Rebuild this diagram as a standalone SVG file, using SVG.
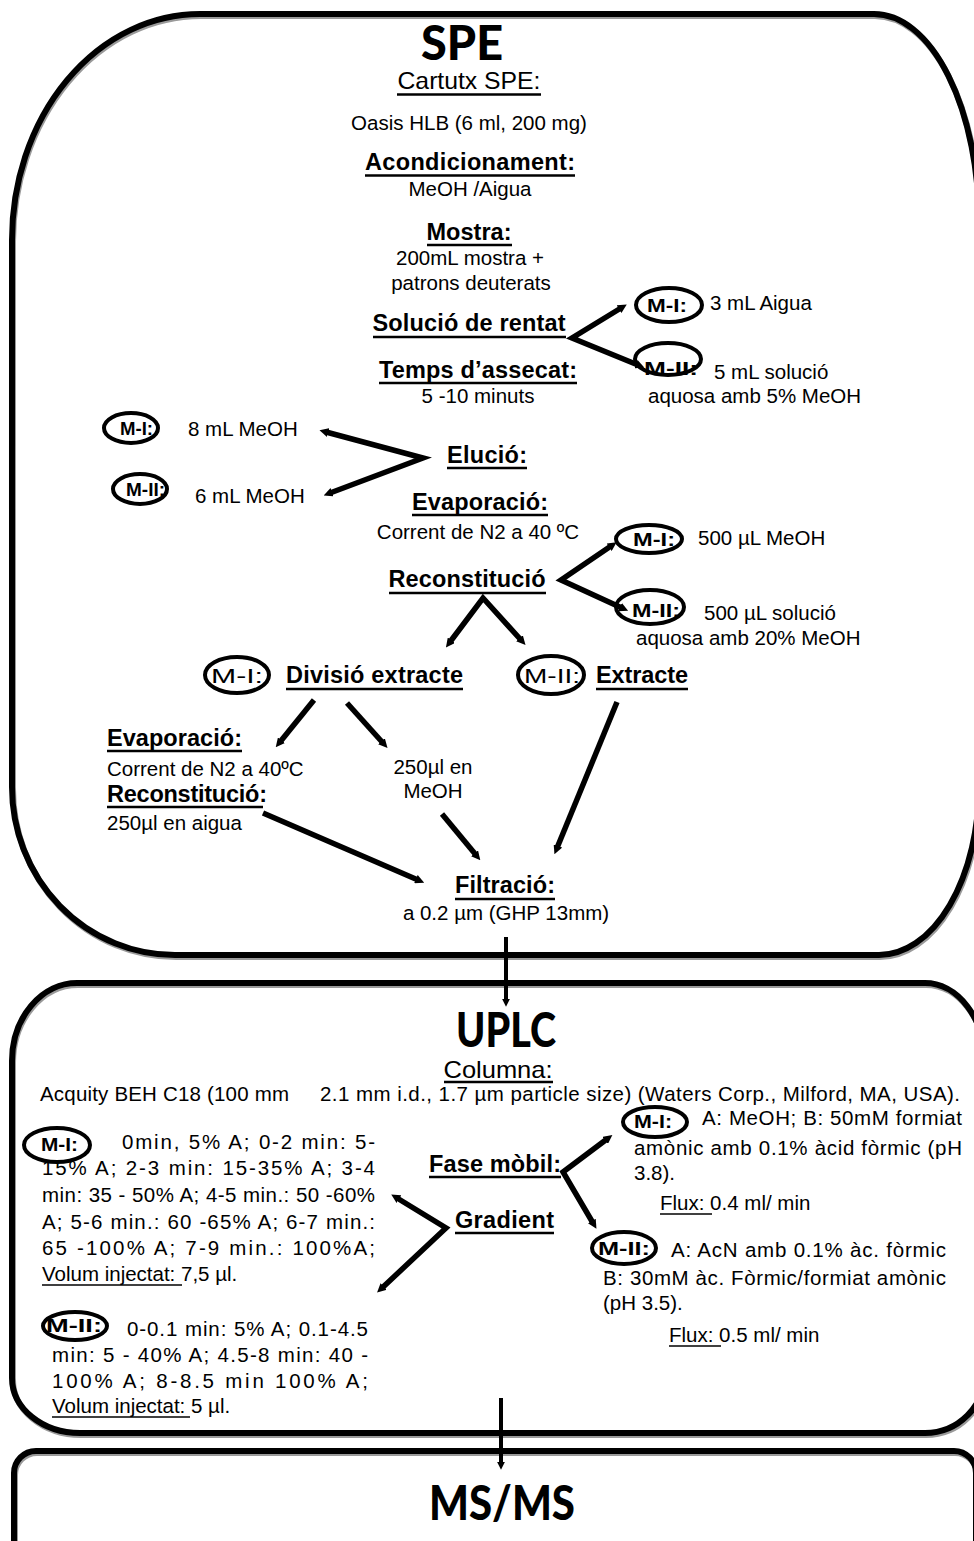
<svg xmlns="http://www.w3.org/2000/svg" width="974" height="1541" viewBox="0 0 974 1541">
  <style>
    text { font-family: "Liberation Sans", Arial, sans-serif; fill: #000; }
    .t { font-size: 20.5px; }
    .h { font-size: 23.5px; font-weight: bold; }
    .hr { font-size: 24px; }
    .m { font-size: 18px; font-weight: bold; }
    .ml { font-size: 21px; }
    .title { font-family: Lato, "Liberation Sans", sans-serif; font-weight: 900; font-size: 48px; }
    .mid { text-anchor: middle; }
    .box { fill: none; stroke: #000; stroke-width: 6; }
    .shadow { fill: none; stroke: #9a9a9a; stroke-width: 6; }
    .oval { fill: none; stroke: #000; stroke-width: 4; }
    .ul { stroke: #000; stroke-width: 2.4; }
    .uls { stroke: #000; stroke-width: 1.6; }
    .c { fill: none; stroke: #000; stroke-width: 5.5; stroke-linejoin: miter; }
    .v { fill: none; stroke: #000; stroke-width: 4; }
  </style>
  <defs>
    <marker id="ah" markerUnits="userSpaceOnUse" viewBox="0 0 12 12" markerWidth="9" markerHeight="9" refX="3" refY="6" orient="auto-start-reverse">
      <path d="M0,0 L12,6 L0,12 Z" fill="#000"/>
    </marker>
    <marker id="ahs" markerUnits="userSpaceOnUse" viewBox="0 0 10 10" markerWidth="8" markerHeight="8" refX="4" refY="5" orient="auto">
      <path d="M0,0 L10,5 L0,10 Z" fill="#000"/>
    </marker>
  </defs>

  <rect width="974" height="1541" fill="#fff"/>

  <!-- SPE stage -->
  <g id="spe">
    <path class="shadow" transform="translate(1,2)" d="M200,14 H874 A105 210 0 0 1 979 224 V785 A100 170 0 0 1 879 955 H175 A163 168 0 0 1 12 787 V240 A188 226 0 0 1 200 14 Z"/>
    <path class="box" d="M200,14 H874 A105 210 0 0 1 979 224 V785 A100 170 0 0 1 879 955 H175 A163 168 0 0 1 12 787 V240 A188 226 0 0 1 200 14 Z"/>
    <text class="title mid" x="462" y="60" textLength="82" lengthAdjust="spacingAndGlyphs">SPE</text>
  </g>

  <g id="cartutx">
    <text class="hr mid" x="469" y="89" textLength="143" lengthAdjust="spacingAndGlyphs">Cartutx SPE:</text>
    <line class="ul" x1="397" y1="94.5" x2="541" y2="94.5"/>
    <text class="t mid" x="469" y="130">Oasis HLB (6 ml, 200 mg)</text>
  </g>

  <g id="acondicionament">
    <text class="h mid" x="470" y="170" textLength="210">Acondicionament:</text>
    <line class="ul" x1="365" y1="175.5" x2="575" y2="175.5"/>
    <text class="t mid" x="470" y="196">MeOH /Aigua</text>
  </g>

  <g id="mostra">
    <text class="h mid" x="469" y="240" textLength="85">Mostra:</text>
    <line class="ul" x1="427" y1="245" x2="512" y2="245"/>
    <text class="t mid" x="470" y="265">200mL mostra +</text>
    <text class="t mid" x="471" y="290">patrons deuterats</text>
  </g>

  <g id="rentat">
    <text class="h mid" x="469" y="331" textLength="193">Solució de rentat</text>
    <line class="ul" x1="373" y1="337" x2="566" y2="337"/>
  </g>

  <g id="rentat-m1">
    <ellipse class="oval" cx="669" cy="305" rx="33" ry="17"/>
    <text class="m" x="647" y="312" textLength="40" lengthAdjust="spacingAndGlyphs">M-I:</text>
    <text class="t" x="710" y="310">3  mL Aigua</text>
  </g>

  <g id="rentat-m2">
    <ellipse class="oval" cx="668" cy="359" rx="33" ry="16"/>
    <text class="m" x="644" y="375" textLength="54" lengthAdjust="spacingAndGlyphs">M-II:</text>
    <text class="t" x="714" y="379">5  mL solució</text>
    <text class="t" x="648" y="403">aquosa amb 5% MeOH</text>
  </g>

  <g id="assecat">
    <text class="h mid" x="478" y="378" textLength="198">Temps d’assecat:</text>
    <line class="ul" x1="379" y1="383" x2="577" y2="383"/>
    <text class="t mid" x="478" y="403">5 -10 minuts</text>
  </g>

  <g id="elucio">
    <text class="h mid" x="487" y="463" textLength="80">Elució:</text>
    <line class="ul" x1="447" y1="468" x2="527" y2="468"/>
  </g>

  <g id="elucio-m1">
    <ellipse class="oval" cx="131" cy="428" rx="27" ry="15"/>
    <text class="m" x="120" y="435" textLength="33" lengthAdjust="spacingAndGlyphs">M-I:</text>
    <text class="t" x="188" y="436">8  mL MeOH</text>
  </g>

  <g id="elucio-m2">
    <ellipse class="oval" cx="140" cy="489" rx="27" ry="15"/>
    <text class="m" x="126" y="496" textLength="39" lengthAdjust="spacingAndGlyphs">M-II:</text>
    <text class="t" x="195" y="503">6  mL MeOH</text>
  </g>

  <g id="evaporacio">
    <text class="h mid" x="480" y="510" textLength="136">Evaporació:</text>
    <line class="ul" x1="412" y1="515" x2="548" y2="515"/>
    <text class="t mid" x="478" y="539">Corrent de N2 a 40 ºC</text>
  </g>

  <g id="reconstitucio">
    <text class="h mid" x="467" y="587" textLength="157">Reconstitució</text>
    <line class="ul" x1="389" y1="593" x2="546" y2="593"/>
  </g>

  <g id="reconstitucio-m1">
    <ellipse class="oval" cx="649" cy="539" rx="33" ry="14"/>
    <text class="m" x="633" y="546" textLength="42" lengthAdjust="spacingAndGlyphs">M-I:</text>
    <text class="t" x="698" y="545">500 µL MeOH</text>
  </g>

  <g id="reconstitucio-m2">
    <ellipse class="oval" cx="650" cy="607" rx="34" ry="17"/>
    <text class="m" x="632" y="617" textLength="48" lengthAdjust="spacingAndGlyphs">M-II:</text>
    <text class="t" x="704" y="620">500 µL solució</text>
    <text class="t" x="636" y="645">aquosa amb 20% MeOH</text>
  </g>

  <g id="divisio">
    <ellipse class="oval" cx="237" cy="675" rx="32" ry="18"/>
    <text class="ml" x="211" y="683" textLength="52" lengthAdjust="spacingAndGlyphs">M-I:</text>
    <text class="h" x="286" y="683" textLength="177">Divisió extracte</text>
    <line class="ul" x1="286" y1="689" x2="463" y2="689"/>
  </g>

  <g id="extracte">
    <ellipse class="oval" cx="551" cy="675" rx="33" ry="19"/>
    <text class="ml" x="524" y="683" textLength="56" lengthAdjust="spacingAndGlyphs">M-II:</text>
    <text class="h" x="596" y="683" textLength="92">Extracte</text>
    <line class="ul" x1="596" y1="689" x2="688" y2="689"/>
  </g>

  <g id="evaporacio-2">
    <text class="h" x="107" y="746" textLength="135">Evaporació:</text>
    <line class="ul" x1="107" y1="751" x2="242" y2="751"/>
    <text class="t" x="107" y="776">Corrent de N2 a 40ºC</text>
    <text class="h" x="107" y="802" textLength="160">Reconstitució:</text>
    <line class="ul" x1="107" y1="807" x2="263" y2="807"/>
    <text class="t" x="107" y="830">250µl en aigua</text>
  </g>

  <g id="meoh-250">
    <text class="t mid" x="433" y="774">250µl en</text>
    <text class="t mid" x="433" y="798">MeOH</text>
  </g>

  <g id="filtracio">
    <text class="h mid" x="505" y="893" textLength="100">Filtració:</text>
    <line class="ul" x1="455" y1="899" x2="555" y2="899"/>
    <text class="t mid" x="506" y="920">a 0.2 µm (GHP 13mm)</text>
  </g>

  <!-- UPLC stage -->
  <g id="uplc">
    <path class="shadow" transform="translate(1,2)" d="M77,983 H925 A60 80 0 0 1 985 1063 V1373 A60 60 0 0 1 925 1433 H80 A68 55 0 0 1 12 1378 V1061 A65 78 0 0 1 77 983 Z"/>
    <path class="box" d="M77,983 H925 A60 80 0 0 1 985 1063 V1373 A60 60 0 0 1 925 1433 H80 A68 55 0 0 1 12 1378 V1061 A65 78 0 0 1 77 983 Z"/>
    <text class="title mid" x="506" y="1047" font-size="43" textLength="100" lengthAdjust="spacingAndGlyphs">UPLC</text>
  </g>

  <g id="columna">
    <text class="hr mid" x="498" y="1078" textLength="109" lengthAdjust="spacingAndGlyphs">Columna:</text>
    <line class="ul" x1="444" y1="1082" x2="553" y2="1082"/>
    <text class="t" x="40" y="1101" textLength="249">Acquity BEH C18 (100 mm</text>
    <text class="t" x="320" y="1101" textLength="640">2.1 mm i.d., 1.7 µm particle size) (Waters Corp., Milford, MA, USA).</text>
  </g>

  <g id="gradient-m1">
    <ellipse class="oval" cx="57" cy="1145" rx="33" ry="17"/>
    <text class="m" x="41" y="1151" textLength="37" lengthAdjust="spacingAndGlyphs">M-I:</text>
    <text class="t" x="122" y="1149" textLength="253">0min, 5% A; 0-2 min: 5-</text>
    <text class="t" x="42" y="1175" textLength="333">15% A; 2-3 min: 15-35% A; 3-4</text>
    <text class="t" x="42" y="1202" textLength="333">min: 35 - 50% A; 4-5 min.: 50 -60%</text>
    <text class="t" x="42" y="1229" textLength="333">A; 5-6 min.: 60 -65% A; 6-7 min.:</text>
    <text class="t" x="42" y="1255" textLength="333">65 -100% A; 7-9 min.: 100%A;</text>
    <text class="t" x="42" y="1281">Volum injectat: 7,5 µl.</text>
    <line class="uls" x1="42" y1="1285" x2="182" y2="1285"/>
  </g>

  <g id="gradient-m2">
    <ellipse class="oval" cx="75" cy="1326" rx="32" ry="14"/>
    <text class="m" x="46" y="1332" textLength="56" lengthAdjust="spacingAndGlyphs">M-II:</text>
    <text class="t" x="127" y="1336" textLength="241">0-0.1 min: 5% A; 0.1-4.5</text>
    <text class="t" x="52" y="1362" textLength="316">min: 5 - 40% A; 4.5-8 min: 40 -</text>
    <text class="t" x="52" y="1388" textLength="316">100% A; 8-8.5 min 100% A;</text>
    <text class="t" x="52" y="1413">Volum injectat: 5 µl.</text>
    <line class="uls" x1="52" y1="1417" x2="190" y2="1417"/>
  </g>

  <g id="fase-mobil">
    <text class="h" x="429" y="1172" textLength="132">Fase mòbil:</text>
    <line class="ul" x1="429" y1="1177" x2="561" y2="1177"/>
  </g>

  <g id="gradient">
    <text class="h" x="455" y="1228" textLength="99">Gradient</text>
    <line class="ul" x1="455" y1="1233" x2="554" y2="1233"/>
  </g>

  <g id="fase-m1">
    <ellipse class="oval" cx="655" cy="1122" rx="32" ry="15"/>
    <text class="m" x="634" y="1128" textLength="38" lengthAdjust="spacingAndGlyphs">M-I:</text>
    <text class="t" x="702" y="1125" textLength="260">A: MeOH; B: 50mM formiat</text>
    <text class="t" x="634" y="1155" textLength="328">amònic amb 0.1% àcid fòrmic (pH</text>
    <text class="t" x="634" y="1180">3.8).</text>
    <text class="t" x="660" y="1210">Flux: 0.4 ml/ min</text>
    <line class="uls" x1="660" y1="1214" x2="712" y2="1214"/>
  </g>

  <g id="fase-m2">
    <ellipse class="oval" cx="624" cy="1248" rx="32" ry="16"/>
    <text class="m" x="598" y="1255" textLength="52" lengthAdjust="spacingAndGlyphs">M-II:</text>
    <text class="t" x="671" y="1257" textLength="275">A: AcN amb 0.1% àc. fòrmic</text>
    <text class="t" x="603" y="1285" textLength="343">B: 30mM àc. Fòrmic/formiat amònic</text>
    <text class="t" x="603" y="1310">(pH 3.5).</text>
    <text class="t" x="669" y="1342">Flux: 0.5 ml/ min</text>
    <line class="uls" x1="669" y1="1346" x2="721" y2="1346"/>
  </g>

  <!-- MS/MS stage -->
  <g id="msms">
    <rect class="shadow" transform="translate(1,2)" x="14" y="1451" width="962" height="130" rx="22"/>
    <rect class="box" x="14" y="1451" width="962" height="130" rx="22"/>
    <text class="title mid" x="502" y="1520" font-size="46" textLength="146" lengthAdjust="spacingAndGlyphs">MS/MS</text>
  </g>

  <!-- connectors -->
  <g id="connectors">
    <path class="c" d="M621,308 L572,338 L638,365" marker-start="url(#ah)" marker-end="url(#ah)"/>
    <path class="c" stroke-width="6.5" d="M326,432 L423,458 L330,493" marker-start="url(#ah)" marker-end="url(#ah)"/>
    <path class="c" d="M611,546 L561,580 L622,608" marker-start="url(#ah)" marker-end="url(#ah)"/>
    <path class="c" d="M450,642 L483,598 L521,640" marker-start="url(#ah)" marker-end="url(#ah)"/>
    <path class="c" d="M314,700 L280,742" marker-end="url(#ah)"/>
    <path class="c" d="M347,703 L383,743" marker-end="url(#ah)"/>
    <path class="c" d="M617,702 L557,848" marker-end="url(#ah)"/>
    <path class="c" d="M263,813 L418,880" marker-end="url(#ah)"/>
    <path class="c" d="M442,814 L476,855" marker-end="url(#ah)"/>
    <path class="v" d="M506,937 L506,1002" marker-end="url(#ahs)"/>
    <path class="c" d="M607,1139 L563,1172 L593,1223" marker-start="url(#ah)" marker-end="url(#ah)"/>
    <path class="c" d="M397,1198 L446,1228 L382,1288" marker-start="url(#ah)" marker-end="url(#ah)"/>
    <path class="v" d="M501,1398 L501,1465" marker-end="url(#ahs)"/>
  </g>
</svg>
